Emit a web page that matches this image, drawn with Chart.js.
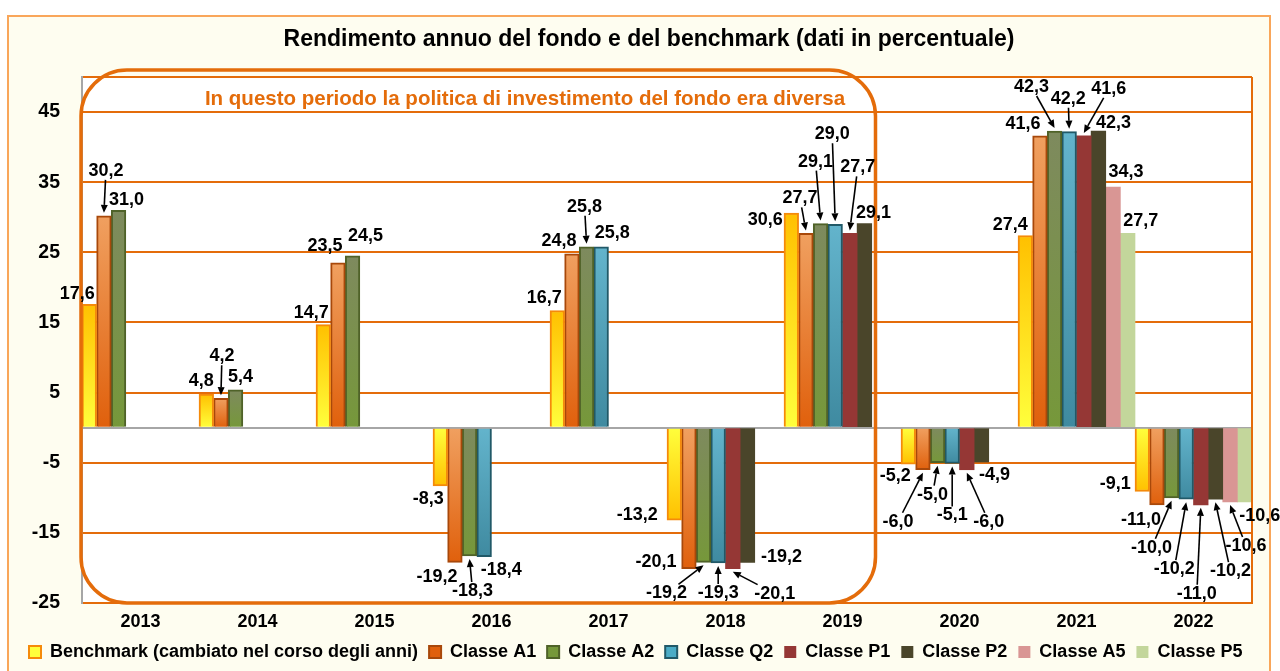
<!DOCTYPE html>
<html>
<head>
<meta charset="utf-8">
<script src="https://cdn.jsdelivr.net/npm/chart.js@4.4.0/dist/chart.umd.min.js"></script>
<style>
  html, body { margin: 0; padding: 0; background: #fff; }
</style>
</head>
<body>
<canvas id="rendimentoChart" width="1280" height="671"></canvas>
<script>
const years = ['2013', '2014', '2015', '2016', '2017', '2018', '2019', '2020', '2021', '2022'];
const benchmark = [17.6, 4.8, 14.7, -8.3, 16.7, -13.2, 30.6, -5.2, 27.4, -9.1];
const classeA1 = [30.2, 4.2, 23.5, -19.2, 24.8, -20.1, 27.7, -6.0, 41.6, -11.0];
const classeA2 = [31.0, 5.4, 24.5, -18.3, 25.8, -19.2, 29.1, -5.0, 42.3, -10.0];
const classeQ2 = [null, null, null, -18.4, 25.8, -19.3, 29.0, -5.1, 42.2, -10.2];
const classeP1 = [null, null, null, null, null, -20.1, 27.7, -6.0, 41.6, -11.0];
const classeP2 = [null, null, null, null, null, -19.2, 29.1, -4.9, 42.3, -10.2];
const classeA5 = [null, null, null, null, null, null, null, null, 34.3, -10.6];
const classeP5 = [null, null, null, null, null, null, null, null, 27.7, -10.6];
const seriesNames = ['Benchmark (cambiato nel corso degli anni)', 'Classe A1', 'Classe A2', 'Classe Q2',
  'Classe P1', 'Classe P2', 'Classe A5', 'Classe P5'];
const yTicks = [-25, -15, -5, 0, 5, 15, 25, 35, 45, 50];

const FONT = "'Liberation Sans', Arial, sans-serif";
const ORANGE = '#E46C0A';

// label placement per series / year: [dx, dy, arrow] relative to the bar end
const labelLayout = [
  [[-12, -10], [-5, -13], [-12, -12], [-12, 13], [-13, -13], [-37, -5], [-26, 7], [-13, 12], [-15, -10], [-27, -7]],
  [[2, -45, 1], [1, -42, 1], [-13, -17], [-18, 15], [-13, -13], [-33, -7], [-6, -35, 1], [-25, 52, 1], [-17, -12], [-16, 15]],
  [[8, -10], [5, -13], [13, -20], [3, 35, 1], [-2, -40, 1], [-37, 31, 1], [-5, -62, 1], [-5, 32, 1], [-23, -44, 1], [-20, 50, 1]],
  [null, null, null, [17, 13], [11, -14], [0, 30, 1], [-3, -90, 1], [0, 52, 1], [-1, -33, 1], [-12, 70, 1]],
  [null, null, null, null, null, [42, 25, 1], [8, -66, 1], [22, 52, 1], [25, -47, 1], [-4, 89, 1]],
  [null, null, null, null, null, [34, -5], [9, -11], [13, 13], [15, -8], [15, 72, 1]],
  [null, null, null, null, null, null, null, null, [13, -15], [16, 44, 1]],
  [null, null, null, null, null, null, null, null, [13, -12], [15, 14]]
];

// [colour near zero / top, colour at the far end, solid, border]
const barStyles = [
  ['#FFFF3C', '#FFC000', '#FFE51F', '#F58A0A'],
  ['#F0A060', '#E0600C', '#E8782A', '#A8480A'],
  ['#7E8A5E', '#76983A', '#77933C', '#4F6228'],
  ['#63B4CC', '#3F8AA0', '#4BACC6', '#215968'],
  ['#953735', '#953735', '#953735', '#953735'],
  ['#4A452A', '#4A452A', '#4A452A', '#4A452A'],
  ['#D99694', '#D99694', '#D99694', '#D99694'],
  ['#C3D69B', '#C3D69B', '#C3D69B', '#C3D69B']
];

function barFill(idx) {
  return function (ctx) {
    const st = barStyles[idx];
    const chart = ctx.chart;
    if (ctx.type !== 'data' || !chart.chartArea || !ctx.parsed) return st[2];
    const y = chart.scales.y;
    const y0 = y.getPixelForValue(0);
    const y1 = y.getPixelForValue(ctx.parsed.y);
    if (!isFinite(y0) || !isFinite(y1) || y0 === y1) return st[2];
    let g;
    if (idx === 0) {
      g = chart.ctx.createLinearGradient(0, y0, 0, y1);
    } else {
      g = chart.ctx.createLinearGradient(0, Math.min(y0, y1), 0, Math.max(y0, y1));
    }
    g.addColorStop(0, st[0]);
    g.addColorStop(1, st[1]);
    return g;
  };
}

const seriesData = [benchmark, classeA1, classeA2, classeQ2, classeP1, classeP2, classeA5, classeP5];

const datasets = seriesData.map((d, i) => ({
  label: seriesNames[i],
  data: d,
  backgroundColor: barFill(i),
  borderColor: barStyles[i][3],
  borderWidth: i < 4 ? 2 : 0,
  categoryPercentage: 1,
  barPercentage: 1
}));

const fmt = v => v.toFixed(1).replace('.', ',');

const backdrop = {
  id: 'backdrop',
  beforeDraw(chart) {
    const { ctx, chartArea: a } = chart;
    ctx.save();
    ctx.fillStyle = '#ffffff';
    ctx.fillRect(0, 0, chart.width, chart.height);
    ctx.fillStyle = '#FEFDF0';
    ctx.fillRect(8, 16, 1262, 700);
    ctx.strokeStyle = '#F9A65A';
    ctx.lineWidth = 2;
    ctx.strokeRect(8, 16, 1262, 700);
    ctx.fillStyle = '#ffffff';
    ctx.fillRect(a.left, a.top, a.right - a.left, a.bottom - a.top);
    ctx.restore();
  },
  afterDatasetsDraw(chart) {
    const { ctx, chartArea: a } = chart;
    ctx.save();
    ctx.strokeStyle = ORANGE;
    ctx.lineWidth = 2;
    ctx.beginPath();
    ctx.moveTo(a.right, a.top);
    ctx.lineTo(a.right, a.bottom);
    ctx.stroke();
    ctx.restore();
  }
};

const periodBox = {
  id: 'periodBox',
  afterDraw(chart) {
    const { ctx, chartArea: a } = chart;
    const x = chart.scales.x;
    const left = a.left - 1;
    const right = x.getPixelForValue(6) + 33;
    const top = a.top - 7;
    const bottom = a.bottom;
    const r = 46;
    ctx.save();
    ctx.strokeStyle = ORANGE;
    ctx.lineWidth = 3.5;
    ctx.beginPath();
    ctx.roundRect(left, top, right - left, bottom - top, r);
    ctx.stroke();
    ctx.fillStyle = ORANGE;
    ctx.font = 'bold 20.5px ' + FONT;
    ctx.textAlign = 'center';
    ctx.textBaseline = 'middle';
    ctx.fillText('In questo periodo la politica di investimento del fondo era diversa', left + 444, a.top + 22);
    ctx.restore();
  }
};

const valueLabels = {
  id: 'valueLabels',
  afterDraw(chart) {
    const { ctx } = chart;
    ctx.save();
    ctx.font = 'bold 18px ' + FONT;
    ctx.textAlign = 'center';
    ctx.textBaseline = 'middle';
    ctx.fillStyle = '#000';
    ctx.strokeStyle = '#000';
    chart.data.datasets.forEach((ds, i) => {
      const meta = chart.getDatasetMeta(i);
      meta.data.forEach((bar, j) => {
        const v = ds.data[j];
        if (v == null) return;
        const lay = labelLayout[i][j] || [0, v >= 0 ? -12 : 12];
        const tx = bar.x + lay[0];
        const ty = bar.y + lay[1];
        const text = fmt(v);
        ctx.fillText(text, tx, ty);
        if (lay[2]) {
          const ex = bar.x;
          const ey = bar.y + (v >= 0 ? -3 : 3);
          const dx = ex - tx, dy = ey - ty;
          const hw = ctx.measureText(text).width / 2 + 1, hh = 9;
          const t = Math.min(dx !== 0 ? hw / Math.abs(dx) : Infinity, dy !== 0 ? hh / Math.abs(dy) : Infinity);
          const sx = tx + dx * t, sy = ty + dy * t;
          const len = Math.hypot(ex - sx, ey - sy);
          const ux = (ex - sx) / len, uy = (ey - sy) / len;
          const hl = 8, hwid = 3.5;
          ctx.lineWidth = 1.6;
          ctx.beginPath();
          ctx.moveTo(sx, sy);
          ctx.lineTo(ex - ux * hl, ey - uy * hl);
          ctx.stroke();
          ctx.beginPath();
          ctx.moveTo(ex, ey);
          ctx.lineTo(ex - ux * hl - uy * hwid, ey - uy * hl + ux * hwid);
          ctx.lineTo(ex - ux * hl + uy * hwid, ey - uy * hl - ux * hwid);
          ctx.closePath();
          ctx.fill();
        }
      });
    });
    ctx.restore();
  }
};

new Chart(document.getElementById('rendimentoChart'), {
  type: 'bar',
  data: { labels: years, datasets: datasets },
  options: {
    responsive: false,
    animation: false,
    devicePixelRatio: 1,
    layout: { padding: { left: 18, right: 0, top: 0, bottom: 0 } },
    scales: {
      x: {
        grid: { display: false },
        border: { color: ORANGE, width: 2 },
        ticks: { color: '#000', font: { family: FONT, size: 18, weight: 'bold' }, padding: 0 },
        afterFit: s => { s.height = 29; }
      },
      y: {
        min: -25,
        max: 50,
        afterBuildTicks: axis => { axis.ticks = yTicks.map(v => ({ value: v })); },
        ticks: {
          color: '#000',
          padding: 22,
          font: { family: FONT, size: 19.5, weight: 'bold' },
          callback: v => (v === 0 || v === 50) ? '' : String(v)
        },
        grid: {
          drawTicks: false,
          lineWidth: 2,
          color: c => (c.tick && c.tick.value === 0) ? '#A6A6A6' : ORANGE
        },
        border: { color: '#A6A6A6', width: 2 },
        afterFit: s => { s.width = 64; }
      },
      // empty strip on the right of the plot
      yRight: {
        position: 'right',
        min: -25,
        max: 50,
        grid: { display: false },
        ticks: { display: false },
        border: { display: false },
        afterFit: s => { s.width = 28; }
      }
    },
    plugins: {
      title: {
        display: true,
        text: 'Rendimento annuo del fondo e del benchmark (dati in percentuale)',
        color: '#000',
        font: { family: FONT, size: 23, weight: 'bold' },
        padding: { top: 26, bottom: 23.4 }
      },
      legend: {
        position: 'bottom',
        align: 'start',
        labels: {
          color: '#000',
          boxWidth: 12,
          boxHeight: 12,
          padding: 11,
          font: { family: FONT, size: 18, weight: 'bold' }
        }
      },
      tooltip: { enabled: false }
    }
  },
  plugins: [backdrop, periodBox, valueLabels]
});
</script>
</body>
</html>
